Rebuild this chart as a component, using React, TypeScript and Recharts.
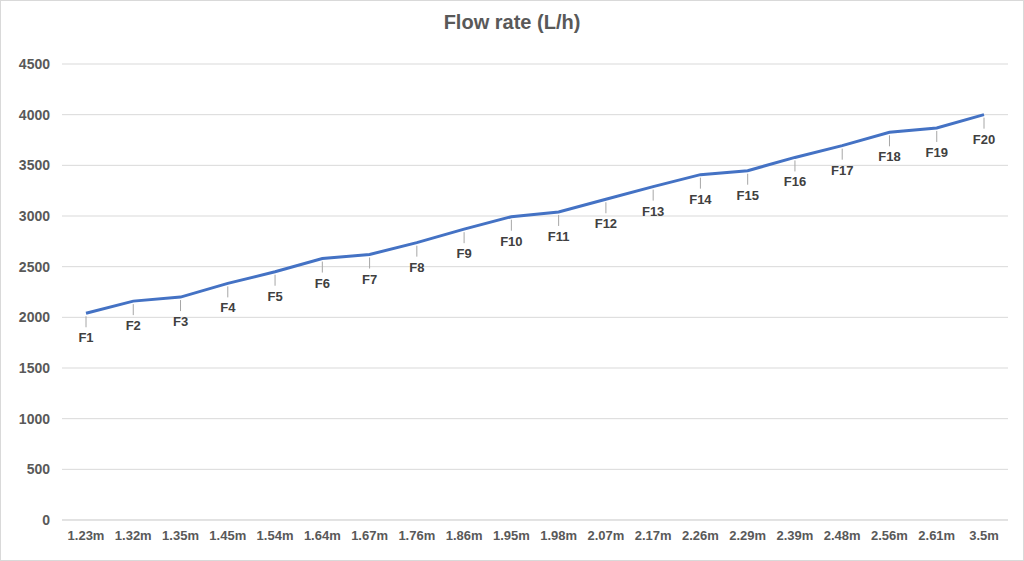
import React from 'react';
import { LineChart, Line, XAxis, YAxis, CartesianGrid, LabelList } from 'recharts';

// lengths (x axis) and flow rates
const lengths = ['1.23m', '1.32m', '1.35m', '1.45m', '1.54m', '1.64m', '1.67m', '1.76m', '1.86m', '1.95m',
  '1.98m', '2.07m', '2.17m', '2.26m', '2.29m', '2.39m', '2.48m', '2.56m', '2.61m', '3.5m'];
const flowRates = [2040, 2160, 2200, 2335, 2450, 2580, 2620, 2737, 2870, 2993,
  3040, 3165, 3290, 3408, 3447, 3578, 3694, 3826, 3869, 4000];
const pointNames = ['F1', 'F2', 'F3', 'F4', 'F5', 'F6', 'F7', 'F8', 'F9', 'F10',
  'F11', 'F12', 'F13', 'F14', 'F15', 'F16', 'F17', 'F18', 'F19', 'F20'];
const yTicks = [0, 500, 1000, 1500, 2000, 2500, 3000, 3500, 4000, 4500];

const data = lengths.map((len, i) => ({ len, flow: flowRates[i], name: pointNames[i] }));

const FONT = '"Liberation Sans", Arial, sans-serif';

// label below the point with a small gray leader line
const LeaderLabel = (props: any) => {
  const { x, y, value } = props;
  return (
    <g>
      <line x1={x} y1={y + 3} x2={x} y2={y + 14} stroke="#a6a6a6" strokeWidth={1} />
      <text x={x} y={y + 29} textAnchor="middle" fontFamily={FONT} fontSize={13} fontWeight="bold" fill="#404040">
        {value}
      </text>
    </g>
  );
};

export default function App() {
  return (
    <div style={{ width: 1024, height: 561, position: 'relative', boxSizing: 'border-box', border: '1px solid #d9d9d9', background: '#fff' }}>
      <style>{`body{margin:0}`}</style>
      <div style={{ position: 'absolute', top: 10, left: 0, width: '100%', textAlign: 'center', fontFamily: FONT, fontSize: 20, fontWeight: 'bold', color: '#595959' }}>
        Flow rate (L/h)
      </div>
      <LineChart width={1022} height={559} data={data} margin={{ top: 63, right: 15, bottom: 10, left: 0 }}>
        <CartesianGrid vertical={false} stroke="#d9d9d9" />
        <XAxis
          dataKey="len"
          height={30}
          padding={{ left: 24, right: 24 }}
          axisLine={{ stroke: '#d9d9d9' }}
          tickLine={false}
          tickMargin={5}
          interval={0}
          tick={{ fill: '#595959', fontSize: 13, fontWeight: 'bold', fontFamily: FONT }}
        />
        <YAxis
          width={61}
          domain={[0, 4500]}
          ticks={yTicks}
          axisLine={false}
          tickLine={false}
          tickMargin={6}
          tick={{ fill: '#595959', fontSize: 14, fontWeight: 'bold', fontFamily: FONT }}
        />
        <Line type="linear" dataKey="flow" stroke="#4472c4" strokeWidth={3} dot={false} isAnimationActive={false}>
          <LabelList dataKey="name" content={LeaderLabel} />
        </Line>
      </LineChart>
    </div>
  );
}
